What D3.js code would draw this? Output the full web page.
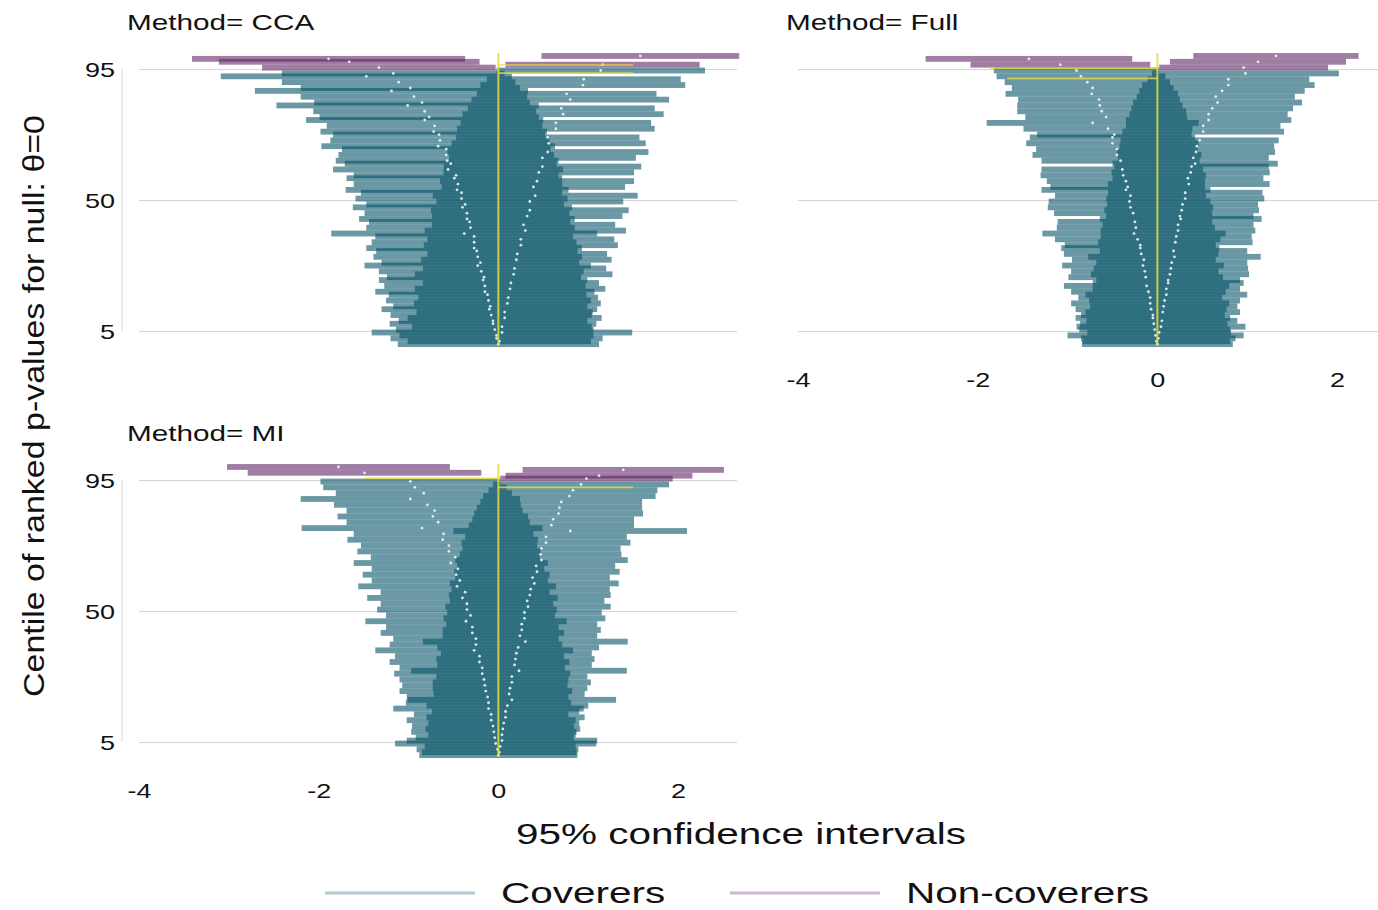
<!DOCTYPE html>
<html>
<head>
<meta charset="utf-8">
<script src="https://cdn.jsdelivr.net/npm/d3@7"></script>
<style>
  body { margin: 0; background: #fff; }
  svg { display: block; font-family: "Liberation Sans", Arial, sans-serif; }
</style>
</head>
<body>
<svg id="chart" width="1378" height="910"></svg>
<script>
// tick values
const yTicks = [5, 50, 95];
const xTicks = [-4, -2, 0, 2];
const trueTheta = 0;

// point estimates and CI half-widths, ordered by rank of p-value (bottom to top)
const ccaEst = [
  -0.00, 0.01, -0.02, -0.02, 0.04, -0.04, 0.04, -0.06, -0.06, 0.07,
  -0.08, 0.07, -0.10, -0.09, 0.10, -0.11, 0.11, -0.12, -0.15, 0.13,
  -0.15, 0.14, -0.17, -0.16, 0.17, -0.19, 0.18, -0.23, -0.20, 0.20,
  -0.23, 0.21, -0.24, -0.27, 0.25, -0.27, 0.25, -0.27, -0.38, 0.30,
  -0.31, 0.28, -0.32, -0.35, 0.32, -0.35, 0.35, -0.40, -0.37, 0.35,
  -0.41, 0.41, -0.41, -0.46, 0.39, -0.45, 0.43, -0.49, -0.47, 0.45,
  -0.56, 0.49, -0.53, -0.57, 0.49, -0.58, 0.55, -0.58, -0.67, 0.56,
  -0.65, 0.55, -0.66, -0.72, 0.64, -0.71, 0.64, -0.82, -0.77, 0.72,
  -0.82, 0.70, -1.01, -0.85, 0.80, -0.94, 0.76, -1.19, -0.98, 0.94,
  -1.11, 0.95, -1.47, -1.17, 1.14, -1.33, 1.16, -1.66, -1.89, 1.58
];
const ccaHalf = [
  1.12, 1.02, 1.18, 1.08, 1.45, 1.10, 1.00, 1.15, 1.05, 1.08,
  1.12, 0.98, 1.20, 1.08, 1.04, 1.14, 1.00, 1.10, 1.22, 1.06,
  1.12, 0.98, 1.16, 1.08, 1.10, 1.14, 1.02, 1.26, 1.10, 1.06,
  1.16, 1.00, 1.12, 1.20, 1.08, 1.14, 1.04, 1.10, 1.48, 1.12,
  1.16, 1.02, 1.12, 1.20, 1.06, 1.14, 1.10, 1.22, 1.10, 1.04,
  1.18, 1.14, 1.12, 1.24, 1.02, 1.16, 1.08, 1.20, 1.14, 1.06,
  1.28, 1.10, 1.18, 1.24, 1.04, 1.20, 1.12, 1.16, 1.30, 1.08,
  1.22, 1.02, 1.18, 1.26, 1.10, 1.20, 1.06, 1.32, 1.22, 1.12,
  1.24, 1.04, 1.46, 1.20, 1.10, 1.26, 1.00, 1.52, 1.22, 1.14,
  1.30, 1.08, 1.62, 1.24, 1.16, 1.30, 1.08, 1.45, 1.52, 1.10
];

const fullEst = [
  0.00, -0.01, 0.01, -0.02, 0.02, -0.03, 0.04, -0.04, 0.05, -0.05,
  -0.05, 0.06, -0.07, 0.07, -0.08, 0.08, -0.08, 0.10, -0.10, 0.10,
  -0.12, 0.12, 0.12, -0.13, 0.14, -0.14, 0.15, -0.16, 0.16, -0.15,
  0.19, -0.18, 0.18, -0.19, -0.19, 0.20, -0.22, 0.21, -0.26, 0.23,
  -0.24, 0.23, -0.25, 0.26, 0.25, -0.27, 0.27, -0.30, 0.28, -0.31,
  0.31, -0.30, 0.31, -0.35, -0.33, 0.35, -0.35, 0.34, -0.38, 0.37,
  -0.39, 0.38, 0.42, -0.41, 0.40, -0.45, 0.43, -0.45, 0.44, -0.50,
  0.47, -0.50, -0.48, 0.51, -0.55, 0.51, -0.72, 0.57, -0.57, 0.57,
  -0.62, 0.61, -0.64, 0.67, -0.65, 0.65, -0.73, 0.72, -0.72, 0.79,
  -0.78, 0.79, -0.85, 0.98, -0.90, 0.96, -1.08, 1.12, -1.43, 1.32
];
const fullHalf = [
  0.84, 0.82, 0.86, 0.98, 0.80, 0.84, 0.94, 0.82, 0.84, 0.86,
  0.80, 0.86, 0.84, 0.82, 0.88, 0.84, 0.80, 0.90, 0.86, 0.82,
  0.92, 0.84, 0.80, 0.86, 0.88, 0.82, 0.86, 0.90, 0.84, 0.80,
  0.96, 0.86, 0.82, 0.88, 0.84, 0.86, 0.92, 0.84, 1.02, 0.86,
  0.88, 0.84, 0.86, 0.90, 0.82, 0.88, 0.86, 0.92, 0.84, 0.90,
  0.88, 0.84, 0.86, 0.94, 0.86, 0.90, 0.88, 0.84, 0.92, 0.88,
  0.90, 0.86, 0.92, 0.88, 0.84, 0.94, 0.88, 0.90, 0.86, 0.96,
  0.88, 0.92, 0.86, 0.90, 0.94, 0.86, 1.18, 0.92, 0.90, 0.88,
  0.94, 0.90, 0.92, 0.94, 0.90, 0.88, 0.96, 0.92, 0.90, 0.96,
  0.92, 0.90, 0.94, 1.04, 0.92, 0.94, 1.00, 0.98, 1.15, 0.92
];

const miEst = [
  -0.00, 0.01, -0.01, 0.02, -0.03, 0.04, -0.04, 0.04, -0.05, 0.05,
  -0.06, 0.06, -0.08, 0.08, -0.08, 0.08, -0.11, 0.10, -0.11, 0.15,
  -0.12, 0.12, -0.14, 0.13, -0.15, 0.15, -0.16, 0.15, -0.18, 0.23,
  -0.18, 0.18, -0.21, 0.19, -0.21, 0.20, -0.27, 0.22, -0.25, 0.30,
  -0.25, 0.24, -0.29, 0.26, -0.29, 0.26, -0.36, 0.29, -0.31, 0.29,
  -0.35, 0.33, -0.35, 0.32, -0.40, 0.35, -0.37, 0.36, -0.46, 0.40,
  -0.43, 0.38, -0.47, 0.43, -0.45, 0.42, -0.53, 0.48, -0.48, 0.47,
  -0.55, 0.48, -0.55, 0.53, -0.62, 0.53, -0.61, 0.80, -0.85, 0.59,
  -0.67, 0.61, -0.73, 0.67, -0.71, 0.68, -0.79, 0.70, -0.98, 0.79,
  -0.83, 0.83, -0.93, 0.92, -0.98, 0.98, 1.12, -1.49, 1.39, -1.78
];
const miHalf = [
  0.88, 0.86, 0.90, 0.84, 1.12, 1.06, 0.88, 0.82, 0.92, 0.86,
  0.90, 0.84, 0.94, 0.88, 0.86, 0.82, 1.06, 0.90, 0.92, 1.16,
  0.90, 0.84, 0.96, 0.86, 0.92, 0.88, 0.94, 0.84, 0.98, 1.20,
  0.92, 0.86, 1.00, 0.88, 0.94, 0.84, 1.10, 0.90, 0.96, 1.14,
  0.92, 0.86, 1.02, 0.88, 0.96, 0.84, 1.12, 0.90, 0.94, 0.86,
  1.00, 0.92, 0.96, 0.86, 1.06, 0.90, 0.94, 0.88, 1.10, 0.94,
  0.98, 0.86, 1.04, 0.92, 0.96, 0.88, 1.08, 0.96, 0.94, 0.90,
  1.02, 0.88, 0.98, 0.94, 1.06, 0.90, 1.00, 1.30, 1.34, 0.92,
  1.02, 0.90, 1.06, 0.94, 0.98, 0.92, 1.04, 0.90, 1.22, 0.96,
  0.98, 0.94, 1.02, 0.98, 1.00, 0.96, 1.04, 1.30, 1.12, 1.24
];

// Monte Carlo interval lines for coverage: [centile, from, to]
const ccaMC = [[96.4, 0, 1.5], [93.6, 0, 1.5]];
const fullMC = [[95.3, -1.87, 0], [91.8, -1.67, 0]];
const miMC = [[95.6, -1.5, 0], [92.5, 0, 1.5]];

const SX = 1.35;             // horizontal stretch of the source image
const teal = "rgb(6,84,104)";
const purple = "rgb(97,40,101)";
const yellow = "#e8dc3a";

const svg = d3.select("#chart");

const panels = [
  { name: "CCA",  est: ccaEst,  half: ccaHalf,  mc: ccaMC,  left: 139, top: 54.5,  yAxis: true,  xAxis: false },
  { name: "Full", est: fullEst, half: fullHalf, mc: fullMC, left: 798, top: 54.5,  yAxis: false, xAxis: true },
  { name: "MI",   est: miEst,   half: miHalf,   mc: miMC,   left: 139, top: 465.5, yAxis: true,  xAxis: true }
];
const panelW = 598, panelH = 291.1;

function label(sel, x, y, txt, size, anchor) {
  return sel.append("text")
    .attr("transform", `translate(${x},${y}) scale(${SX},1)`)
    .attr("text-anchor", anchor || "start")
    .attr("font-size", size)
    .attr("fill", "#111")
    .text(txt);
}

panels.forEach(p => {
  const g = svg.append("g");
  const x = d3.scaleLinear().domain([-4, 2.656]).range([p.left, p.left + panelW]);
  const y = d3.scaleLinear().domain([0, 100]).range([p.top + panelH, p.top]);

  // gridlines
  g.append("g")
    .attr("transform", `translate(${p.left},0)`)
    .call(d3.axisLeft(y).tickValues(yTicks).tickSize(-panelW).tickFormat(""))
    .call(a => a.select(".domain").remove())
    .selectAll("line").attr("stroke", "#d4d4d4").attr("stroke-width", 1);

  const n = p.est.length;
  const rows = p.est.map((e, i) => ({
    c: (i + 0.5) * 100 / n,
    est: e,
    lo: e - p.half[i],
    hi: e + p.half[i]
  }));
  const step = 100 / n;

  g.append("g").selectAll("rect")
    .data(rows)
    .join("rect")
    .attr("x", d => x(d.lo))
    .attr("width", d => x(d.hi) - x(d.lo))
    .attr("y", d => y(d.c + step))
    .attr("height", d => y(d.c - step) - y(d.c + step))
    .attr("fill", d => (d.lo > trueTheta || d.hi < trueTheta) ? purple : teal)
    .attr("fill-opacity", 0.6);

  // point estimates
  g.append("g").selectAll("circle")
    .data(rows)
    .join("circle")
    .attr("cx", d => x(d.est))
    .attr("cy", d => y(d.c))
    .attr("r", 1.4)
    .attr("fill", "#eef5f7")
    .attr("fill-opacity", 0.9);

  // true value and MC lines
  g.append("line")
    .attr("x1", x(trueTheta)).attr("x2", x(trueTheta))
    .attr("y1", y(0)).attr("y2", y(100.5))
    .attr("stroke", yellow).attr("stroke-width", 2).attr("stroke-opacity", 0.85);
  g.append("g").selectAll("line")
    .data(p.mc)
    .join("line")
    .attr("x1", d => x(d[1])).attr("x2", d => x(d[2]))
    .attr("y1", d => y(d[0])).attr("y2", d => y(d[0]))
    .attr("stroke", yellow).attr("stroke-width", 1.6).attr("stroke-opacity", 0.8);

  // panel title
  label(g, p.left - 12, p.top - 24.5, "Method= " + p.name, 22, "start");

  if (p.yAxis) {
    g.append("line")
      .attr("x1", 122).attr("x2", 122)
      .attr("y1", y(95)).attr("y2", y(5))
      .attr("stroke", "#d8d8d8");
    const ya = g.append("g")
      .attr("transform", "translate(115,0)")
      .call(d3.axisLeft(y).tickValues(yTicks).tickSize(0))
      .attr("font-size", 20).attr("font-family", null);
    ya.select(".domain").remove();
    ya.selectAll("text")
      .attr("x", 0).attr("dy", "0.35em")
      .attr("transform", `scale(${SX},1)`)
      .attr("fill", "#111");
  }
  if (p.xAxis) {
    const xa = g.append("g")
      .attr("transform", `translate(0,${p.top + panelH + 41})`)
      .call(d3.axisBottom(x).tickValues(xTicks).tickSize(0).tickFormat(d => String(d)))
      .attr("font-size", 20).attr("font-family", null);
    xa.select(".domain").remove();
    xa.selectAll("text")
      .attr("y", 0).attr("dy", 0)
      .attr("transform", `scale(${SX},1)`)
      .attr("fill", "#111");
  }
});

// axis titles
label(svg, 741, 844, "95% confidence intervals", 30, "middle");
svg.append("text")
  .attr("transform", "translate(44,406) rotate(-90)")
  .attr("text-anchor", "middle")
  .attr("font-size", 30)
  .attr("textLength", 582)
  .attr("lengthAdjust", "spacingAndGlyphs")
  .attr("fill", "#111")
  .text("Centile of ranked p-values for null: θ=0");

// legend
const legendItems = [
  { text: "Coverers", color: "#b6cad2", x: 325 },
  { text: "Non-coverers", color: "#ccb8cf", x: 730 }
];
legendItems.forEach(d => {
  svg.append("line")
    .attr("x1", d.x).attr("x2", d.x + 150)
    .attr("y1", 893).attr("y2", 893)
    .attr("stroke", d.color).attr("stroke-width", 3);
  label(svg, d.x + 176, 903, d.text, 30, "start");
});
</script>
</body>
</html>
